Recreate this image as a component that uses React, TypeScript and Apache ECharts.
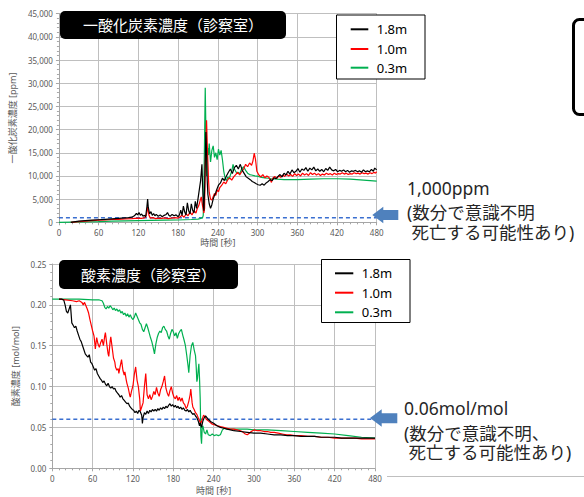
import React, { useEffect, useRef } from 'react';
import * as echarts from 'echarts';

const SERIES_NAMES = ['1.8m', '1.0m', '0.3m'];
const SERIES_COLORS = ['#000000', '#ff0000', '#00b050'];

const CO_TITLE = '一酸化炭素濃度（診察室）';
const O2_TITLE = '酸素濃度（診察室）';
const CO_Y_NAME = '一酸化炭素濃度 [ppm]';
const O2_Y_NAME = '酸素濃度 [mol/mol]';
const X_NAME = '時間 [秒]';
const CO_LIMIT = 1000;
const O2_LIMIT = 0.06;
const CO_NOTE = ['1,000ppm', '(数分で意識不明\n 死亡する可能性あり)'];
const O2_NOTE = ['0.06mol/mol', '(数分で意識不明、\n 死亡する可能性あり)'];

const coBlack: [number, number][] = [[18,0],[25,150],[30,250],[40,350],[50,450],[60,550],[70,650],[80,750],[90,850],[100,950],[105,1000],[110,1100],[114,1400],[117,1900],[119,1600],[121,2100],[123,1500],[125,1800],[127,1300],[129,1500],[131,1200],[133,3500],[134,5000],[135,3200],[137,1800],[139,2300],[141,1500],[143,1900],[145,1400],[147,1700],[150,1300],[153,1600],[156,1200],[159,1500],[162,1700],[164,2100],[166,1500],[168,1300],[171,1700],[174,1400],[177,1600],[180,1200],[182,1600],[184,2600],[186,1500],[188,3500],[190,2200],[192,1600],[194,4200],[196,2500],[198,1800],[200,4000],[202,2600],[204,2000],[206,4500],[208,3000],[210,5000],[212,7000],[214,9000],[216,12500],[217,8000],[218,4000],[219,2500],[220,7000],[222,19500],[223,15000],[224,9000],[225,6000],[227,4000],[229,3000],[231,3800],[233,5000],[235,5800],[237,6500],[239,7300],[241,8000],[244,8500],[247,9500],[250,9000],[253,10000],[256,10800],[259,11500],[262,10500],[265,11800],[268,12300],[271,11500],[274,12500],[277,11200],[280,10500],[283,9800],[286,9500],[289,9200],[292,8800],[295,8600],[298,8300],[301,8100],[304,8000],[307,8300],[310,8000],[313,8500],[316,8800],[319,9200],[322,9000],[325,9600],[328,9400],[331,9900],[334,10300],[337,9800],[340,10600],[343,10200],[346,11000],[349,10400],[352,11300],[355,10700],[358,11000],[361,11600],[364,10800],[367,11500],[370,11200],[373,11800],[376,11000],[379,11700],[382,11300],[385,11900],[388,11100],[391,11500],[394,11000],[397,11400],[400,10900],[403,11600],[406,11200],[409,11900],[412,11300],[415,11100],[418,11400],[421,10900],[424,11200],[427,11000],[430,11300],[433,10900],[436,11200],[439,10800],[442,11100],[445,11000],[448,11200],[451,10900],[454,11100],[457,10800],[460,11300],[463,10900],[466,11100],[469,10900],[472,11400],[475,11000],[477,11700],[480,11300]];

const coRed: [number, number][] = [[18,0],[30,150],[40,250],[50,350],[60,450],[70,500],[80,600],[90,650],[100,750],[110,800],[115,850],[120,900],[125,850],[130,1000],[132,1500],[134,3300],[136,1500],[138,900],[142,1000],[146,800],[150,900],[155,850],[160,950],[165,800],[170,900],[175,1000],[180,900],[183,1200],[186,1500],[189,1100],[192,1800],[195,1400],[198,2200],[201,1600],[204,2500],[207,2000],[209,3000],[211,3500],[213,4500],[215,5500],[217,3500],[219,2000],[220,3000],[221,12000],[223,22000],[224,17000],[225,13000],[226,9000],[227,6500],[229,5000],[231,4800],[233,5500],[235,6200],[237,5800],[239,7000],[241,6600],[243,7500],[246,8000],[249,8700],[252,8300],[255,9200],[258,9600],[261,9100],[264,9800],[267,10300],[270,10800],[273,10200],[276,10900],[279,11500],[282,12500],[285,12000],[288,12800],[291,12300],[293,13200],[295,14900],[297,13500],[299,11000],[302,10200],[305,9800],[308,10300],[311,9600],[314,10000],[317,9700],[319,9300],[321,8600],[323,9500],[326,9900],[329,9400],[332,10000],[335,9700],[338,10200],[341,9900],[344,10400],[347,10000],[350,10300],[353,9900],[356,10500],[359,10100],[362,10400],[365,10000],[368,10600],[371,10200],[374,10500],[377,10100],[380,10700],[383,10300],[386,10600],[389,10200],[392,10500],[395,10100],[398,10400],[401,10200],[404,10600],[407,10300],[410,10500],[413,10200],[416,10600],[419,10300],[422,10500],[425,10400],[428,10700],[431,10400],[434,10600],[437,10300],[440,10500],[443,10400],[446,10700],[449,10500],[452,10600],[455,10400],[458,10700],[461,10500],[464,10600],[467,10400],[470,10700],[473,10500],[476,10800],[478,10600],[480,10900]];

const coGreen: [number, number][] = [[0,0],[20,50],[40,100],[60,150],[80,250],[100,300],[120,350],[140,400],[160,450],[180,500],[190,550],[200,600],[210,700],[213,800],[215,900],[217,1000],[218,1500],[219,8000],[220,18000],[221,29000],[222,20000],[223,10000],[224,14000],[225,16000],[226,14500],[227,17000],[229,13000],[231,15500],[233,16500],[235,14000],[237,15000],[239,13500],[241,15800],[243,14500],[245,15500],[247,13500],[249,11000],[251,9500],[253,9000],[255,9800],[257,9300],[259,10200],[261,11000],[263,12500],[265,11500],[267,11000],[269,10500],[271,10800],[273,10400],[276,11500],[279,12000],[282,11200],[285,10600],[288,10300],[291,10200],[296,10000],[301,9900],[306,9700],[311,9600],[316,9500],[321,9400],[330,9300],[340,9200],[360,9200],[380,9300],[400,9400],[420,9400],[440,9300],[460,9100],[480,8900]];

const o2Black: [number, number][] = [[10,0.207],[14,0.207],[17,0.206],[19,0.2],[21,0.192],[23,0.19],[25,0.195],[27,0.2],[29,0.178],[31,0.175],[33,0.172],[35,0.174],[37,0.168],[39,0.163],[41,0.158],[43,0.155],[45,0.15],[47,0.145],[49,0.14],[51,0.138],[53,0.136],[55,0.139],[57,0.13],[59,0.128],[61,0.124],[63,0.12],[65,0.122],[67,0.116],[69,0.113],[71,0.11],[73,0.108],[75,0.105],[77,0.107],[79,0.103],[81,0.101],[83,0.104],[85,0.1],[87,0.098],[89,0.1],[91,0.097],[93,0.098],[95,0.094],[97,0.092],[99,0.09],[101,0.087],[103,0.089],[105,0.085],[107,0.083],[109,0.081],[111,0.079],[113,0.08],[115,0.076],[117,0.074],[119,0.072],[121,0.071],[123,0.068],[125,0.07],[127,0.067],[129,0.071],[131,0.069],[133,0.065],[134,0.055],[135,0.062],[137,0.068],[139,0.066],[141,0.07],[143,0.067],[145,0.071],[147,0.069],[149,0.072],[151,0.07],[153,0.072],[155,0.07],[157,0.073],[159,0.071],[161,0.074],[163,0.072],[165,0.075],[167,0.073],[169,0.076],[171,0.074],[173,0.077],[175,0.079],[177,0.076],[179,0.078],[181,0.075],[183,0.077],[185,0.074],[187,0.076],[189,0.073],[191,0.075],[193,0.072],[195,0.074],[197,0.071],[199,0.07],[201,0.072],[203,0.069],[205,0.071],[207,0.068],[209,0.066],[211,0.067],[213,0.064],[215,0.062],[217,0.058],[219,0.052],[220,0.056],[222,0.05],[224,0.058],[226,0.062],[228,0.064],[230,0.062],[233,0.059],[236,0.057],[240,0.055],[245,0.052],[250,0.05],[255,0.049],[260,0.048],[265,0.047],[270,0.046],[280,0.045],[290,0.044],[300,0.043],[310,0.043],[320,0.042],[330,0.041],[340,0.041],[350,0.04],[360,0.04],[370,0.039],[380,0.039],[390,0.039],[400,0.038],[410,0.038],[420,0.038],[430,0.037],[440,0.037],[450,0.037],[460,0.037],[470,0.037],[480,0.037]];

const o2Red: [number, number][] = [[10,0.207],[20,0.206],[30,0.205],[36,0.204],[40,0.205],[44,0.203],[46,0.2],[48,0.203],[50,0.199],[52,0.195],[54,0.19],[56,0.182],[58,0.175],[60,0.168],[62,0.162],[63,0.155],[64,0.146],[66,0.16],[68,0.152],[70,0.148],[72,0.154],[74,0.158],[76,0.15],[78,0.162],[79,0.166],[81,0.152],[83,0.14],[84,0.137],[86,0.155],[87,0.161],[89,0.148],[91,0.135],[93,0.13],[94,0.124],[96,0.12],[98,0.122],[99,0.116],[101,0.125],[103,0.133],[105,0.12],[107,0.114],[108,0.118],[110,0.108],[111,0.104],[113,0.098],[115,0.09],[116,0.087],[118,0.095],[120,0.101],[122,0.115],[124,0.124],[126,0.108],[128,0.1],[130,0.085],[131,0.07],[133,0.075],[135,0.08],[137,0.1],[139,0.116],[141,0.09],[143,0.085],[145,0.09],[147,0.084],[149,0.088],[151,0.094],[153,0.09],[155,0.099],[157,0.092],[159,0.088],[161,0.096],[163,0.1],[165,0.106],[167,0.113],[169,0.098],[171,0.092],[173,0.088],[175,0.095],[177,0.1],[179,0.092],[181,0.087],[183,0.085],[185,0.089],[187,0.083],[189,0.087],[191,0.082],[193,0.086],[195,0.08],[197,0.078],[199,0.073],[201,0.076],[203,0.082],[205,0.09],[206,0.097],[208,0.08],[209,0.075],[211,0.072],[213,0.068],[215,0.066],[217,0.062],[219,0.058],[221,0.055],[223,0.06],[225,0.065],[227,0.063],[229,0.06],[232,0.058],[235,0.056],[238,0.054],[242,0.053],[246,0.052],[250,0.051],[255,0.05],[260,0.049],[265,0.048],[270,0.048],[275,0.047],[280,0.046],[284,0.044],[287,0.042],[290,0.041],[293,0.043],[296,0.045],[300,0.047],[305,0.046],[310,0.046],[315,0.045],[320,0.045],[325,0.044],[330,0.044],[336,0.043],[342,0.042],[348,0.041],[354,0.041],[360,0.04],[370,0.04],[380,0.039],[390,0.039],[400,0.038],[410,0.038],[420,0.037],[430,0.037],[440,0.037],[450,0.037],[460,0.036],[470,0.036],[480,0.036]];

const o2Green: [number, number][] = [[0,0.207],[20,0.207],[40,0.207],[60,0.206],[70,0.206],[74,0.205],[76,0.202],[78,0.197],[80,0.195],[82,0.198],[84,0.196],[86,0.199],[88,0.197],[90,0.194],[92,0.196],[94,0.193],[96,0.195],[98,0.192],[100,0.194],[102,0.19],[104,0.192],[106,0.188],[108,0.19],[110,0.186],[112,0.189],[114,0.185],[116,0.188],[118,0.184],[120,0.182],[122,0.185],[124,0.19],[126,0.186],[128,0.182],[130,0.178],[132,0.176],[134,0.17],[136,0.167],[138,0.172],[140,0.177],[142,0.172],[144,0.166],[146,0.16],[148,0.155],[150,0.148],[152,0.14],[154,0.152],[156,0.16],[158,0.165],[160,0.168],[162,0.166],[164,0.172],[166,0.174],[168,0.17],[170,0.168],[172,0.162],[174,0.158],[176,0.165],[178,0.17],[180,0.167],[182,0.162],[184,0.166],[186,0.159],[188,0.165],[190,0.168],[192,0.17],[194,0.163],[196,0.157],[198,0.15],[200,0.138],[202,0.125],[203,0.117],[205,0.138],[207,0.15],[209,0.154],[211,0.145],[213,0.138],[214,0.125],[215,0.106],[216,0.11],[217,0.12],[218,0.128],[219,0.11],[220,0.085],[221,0.04],[222,0.03],[223,0.05],[224,0.052],[226,0.044],[228,0.042],[230,0.047],[232,0.041],[235,0.04],[238,0.042],[241,0.04],[244,0.041],[247,0.04],[250,0.041],[253,0.047],[256,0.049],[260,0.048],[270,0.048],[280,0.048],[290,0.048],[300,0.047],[320,0.047],[340,0.046],[360,0.045],[380,0.044],[400,0.043],[420,0.042],[440,0.04],[460,0.038],[480,0.037]];

const FONT = "'Noto Sans', 'Noto Sans CJK JP', sans-serif";
const AXIS_GRAY = '#a6a6a6';
const GRID_GRAY = '#bfbfbf';
const LABEL_GRAY = '#595959';
const LIMIT_BLUE = '#3a6fd0';

function xAxisDef(gridIndex: number, nameGap: number) {
  return {
    type: 'value', gridIndex, min: 0, max: 480, interval: 60,
    name: X_NAME, nameLocation: 'middle', nameGap,
    nameTextStyle: { color: LABEL_GRAY, fontSize: 9, fontFamily: FONT },
    axisLine: { show: true, lineStyle: { color: AXIS_GRAY } },
    axisTick: { show: true, length: 3, lineStyle: { color: AXIS_GRAY } },
    minorTick: { show: true, splitNumber: 6, length: 2, lineStyle: { color: AXIS_GRAY } },
    axisLabel: { color: LABEL_GRAY, fontSize: 8, fontFamily: FONT, margin: 6 },
    splitLine: { show: true, lineStyle: { color: GRID_GRAY, width: 1 } },
  };
}

function yAxisDef(gridIndex: number, name: string, max: number, interval: number, nameGap: number, fmt?: (v: number) => string) {
  return {
    type: 'value', gridIndex, min: 0, max, interval,
    name, nameLocation: 'middle', nameGap,
    nameTextStyle: { color: LABEL_GRAY, fontSize: 9, fontFamily: FONT },
    axisLine: { show: true, lineStyle: { color: AXIS_GRAY } },
    axisTick: { show: true, length: 3, lineStyle: { color: AXIS_GRAY } },
    minorTick: { show: true, splitNumber: 5, length: 2, lineStyle: { color: AXIS_GRAY } },
    axisLabel: { color: LABEL_GRAY, fontSize: 8, fontFamily: FONT, margin: 6, formatter: fmt },
    splitLine: { show: true, lineStyle: { color: GRID_GRAY, width: 1 } },
  };
}

function lineSeries(name: string, color: string, data: [number, number][], axisIndex: number) {
  return {
    type: 'line', name, data, xAxisIndex: axisIndex, yAxisIndex: axisIndex,
    showSymbol: false, symbol: 'none', lineStyle: { color, width: 1.2 }, itemStyle: { color },
  };
}

function limitSeries(value: number, axisIndex: number) {
  return {
    type: 'line', name: 'limit', data: [[0, value], [480, value]],
    xAxisIndex: axisIndex, yAxisIndex: axisIndex, showSymbol: false, symbol: 'none', z: 1,
    lineStyle: { color: LIMIT_BLUE, width: 1.5, type: [4, 3] }, itemStyle: { color: LIMIT_BLUE },
  };
}

function legendGraphics(x: number, y: number, w: number, h: number, rowYs: number[], lineX1: number, lineX2: number, textX: number) {
  const els: any[] = [
    { type: 'rect', shape: { x, y, width: w, height: h }, style: { fill: '#fff', stroke: '#000', lineWidth: 1 }, z: 100 },
  ];
  SERIES_NAMES.forEach((n, i) => {
    els.push({ type: 'line', shape: { x1: lineX1, y1: rowYs[i], x2: lineX2, y2: rowYs[i] }, style: { stroke: SERIES_COLORS[i], lineWidth: 2 }, z: 101 });
    els.push({ type: 'text', x: textX, y: rowYs[i], style: { text: n, fontSize: 13, fontFamily: FONT, fill: '#000', textVerticalAlign: 'middle', textAlign: 'left' }, z: 101 });
  });
  return els;
}

function titleGraphics(x: number, y: number, w: number, h: number, text: string) {
  return [
    { type: 'rect', shape: { x, y, width: w, height: h, r: 5 }, style: { fill: '#000' }, z: 100 },
    { type: 'text', x: x + w / 2, y: y + h / 2, style: { text, fontSize: 15, fontFamily: FONT, fill: '#fff', textAlign: 'center', textVerticalAlign: 'middle' }, z: 101 },
  ];
}

function noteGraphics(lines: string[], x: number, ys: number[]) {
  return lines.map((t, i) => ({
    type: 'text', x, y: ys[i],
    style: { text: t, fontSize: 17.5, lineHeight: 19.5, fontFamily: FONT, fill: '#262626', textAlign: 'left', textVerticalAlign: 'middle' },
    z: 100,
  }));
}

export default function App() {
  const ref = useRef<HTMLDivElement>(null);
  useEffect(() => {
    document.body.style.margin = '0';
    if (!ref.current) return;
    const chart = echarts.init(ref.current, undefined, { renderer: 'svg' });
    const graphic: any[] = [
      ...titleGraphics(60, 11, 226, 28, CO_TITLE),
      ...titleGraphics(59, 260, 179, 29, O2_TITLE),
      ...legendGraphics(336.5, 15, 88.5, 64, [29.3, 49, 67.7], 350.7, 368.3, 376.7),
      ...legendGraphics(321.5, 259.5, 88.5, 63, [273.3, 292.7, 312.3], 335, 353.3, 361.7),
      { type: 'rect', shape: { x: 573.5, y: 19.5, width: 40, height: 95, r: 6 }, style: { fill: 'none', stroke: '#000', lineWidth: 3 }, z: 100 },
      { type: 'polygon', shape: { points: [[372.3, 215], [383.3, 206.7], [383.3, 210], [398.3, 210], [398.3, 220], [383.3, 220], [383.3, 223.3]] }, style: { fill: '#4f81bd' }, z: 100 },
      { type: 'polygon', shape: { points: [[370, 418], [381.7, 409.3], [381.7, 413.3], [397.3, 413.3], [397.3, 423.3], [381.7, 423.3], [381.7, 426.7]] }, style: { fill: '#4f81bd' }, z: 100 },
      ...noteGraphics(CO_NOTE, 407, [188.3, 221.8]),
      ...noteGraphics(O2_NOTE, 404, [408.3, 442.5]),
      { type: 'line', shape: { x1: 387, y1: 476.5, x2: 584, y2: 476.5 }, style: { stroke: '#bfbfbf', lineWidth: 1 }, z: 100 },
    ];
    chart.setOption({
      animation: false,
      backgroundColor: '#ffffff',
      textStyle: { fontFamily: FONT },
      grid: [
        { left: 50, top: 13.7, width: 326.7, height: 208.6 },
        { left: 52.3, top: 264, width: 322.7, height: 204.3 },
      ],
      xAxis: [xAxisDef(0, 16), xAxisDef(1, 18)],
      yAxis: [
        yAxisDef(0, CO_Y_NAME, 45000, 5000, 33),
        yAxisDef(1, O2_Y_NAME, 0.25, 0.05, 29.5, (v: number) => v.toFixed(2)),
      ],
      series: [
        limitSeries(CO_LIMIT, 0),
        lineSeries(SERIES_NAMES[2], SERIES_COLORS[2], coGreen, 0),
        lineSeries(SERIES_NAMES[1], SERIES_COLORS[1], coRed, 0),
        lineSeries(SERIES_NAMES[0], SERIES_COLORS[0], coBlack, 0),
        limitSeries(O2_LIMIT, 1),
        lineSeries(SERIES_NAMES[2], SERIES_COLORS[2], o2Green, 1),
        lineSeries(SERIES_NAMES[1], SERIES_COLORS[1], o2Red, 1),
        lineSeries(SERIES_NAMES[0], SERIES_COLORS[0], o2Black, 1),
      ],
      graphic,
    });
    return () => chart.dispose();
  }, []);
  return <div ref={ref} style={{ width: 584, height: 497 }} />;
}
